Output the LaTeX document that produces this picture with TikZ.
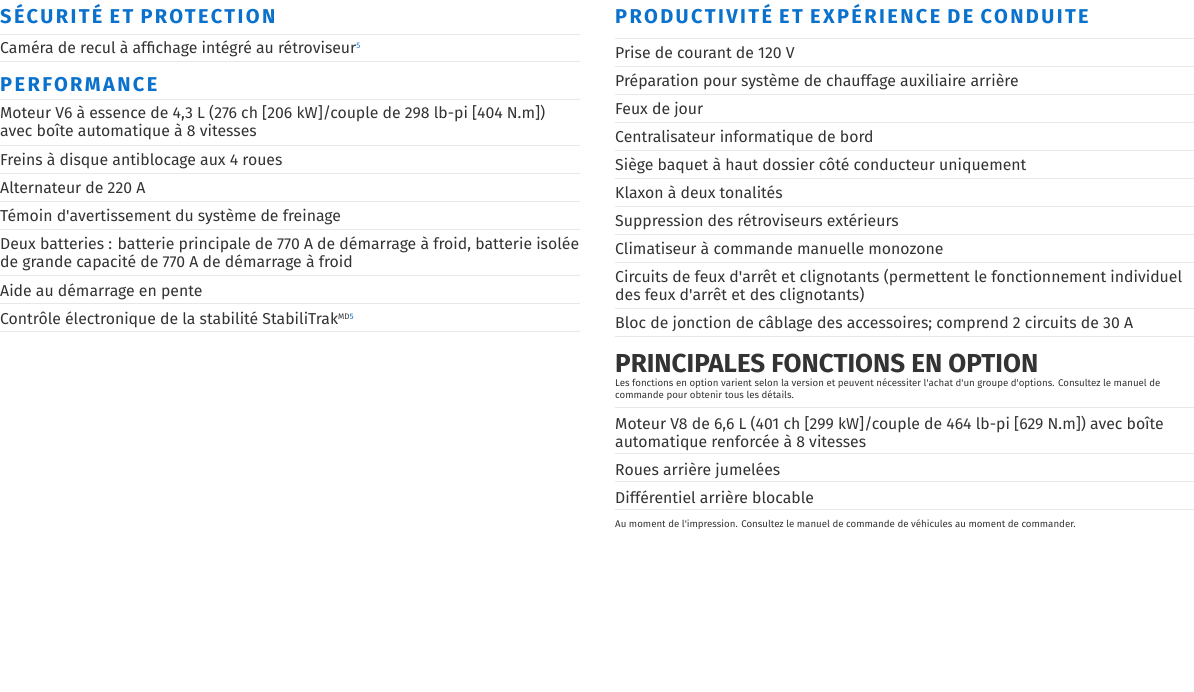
\documentclass[tikz,border=0pt]{standalone}
\usepackage{fontspec}
\setmainfont{Fira Sans}
\newfontfamily\headfont[LetterSpace=12]{Fira Sans}
\newcommand{\ap}{\textquotesingle}
\definecolor{txt}{HTML}{333333}
\definecolor{hb}{HTML}{0A72CC}
\definecolor{sep}{HTML}{E8E8E8}
\tikzset{
 body/.style={anchor=base west,inner sep=0pt,text=txt,font=\fontsize{15.8}{18}\selectfont},
 head/.style={anchor=base west,inner sep=0pt,text=hb,font=\headfont\fontsize{20}{22}\selectfont\bfseries},
 small/.style={anchor=base west,inner sep=0pt,text=txt,font=\fontsize{9.7}{10}\selectfont},
 sepl/.style={draw=sep,line width=0.8pt}
}
\newcommand{\sups}[1]{\raisebox{5pt}{\fontsize{8}{8}\selectfont #1}}
\begin{document}
\begin{tikzpicture}[x=1pt,y=-1pt]
\useasboundingbox[fill=white] (0,0) rectangle (1194,692);
\foreach \y in {34,61,99,145,173,201,229,275,303,331} \draw[sepl] (0,\y) -- (580,\y);
\foreach \y in {38,66,94,122,150,178,206,234,262,308,336,407,453,481,509} \draw[sepl] (615,\y) -- (1194,\y);
\node[head] (h1) at (0,24) {SÉCURITÉ ET PROTECTION};
\node[body] (l1) at (0,54) {Caméra de recul à affichage intégré au rétroviseur\sups{\color{hb}5}};
\node[head] (h2) at (0,92) {PERFORMANCE};
\node[body] (l2) at (0,119) {Moteur V6 à essence de 4,3 L (276 ch [206 kW]/couple de 298 lb-pi [404 N.m])};
\node[body] (l2b) at (0,137) {avec boîte automatique à 8 vitesses};
\node[body] (l3) at (0,166) {Freins à disque antiblocage aux 4 roues};
\node[body] (l4) at (0,194) {Alternateur de 220 A};
\node[body] (l5) at (0,222) {Témoin d\ap avertissement du système de freinage};
\node[body] (l6) at (0,250) {Deux batteries : batterie principale de 770 A de démarrage à froid, batterie isolée};
\node[body] (l6b) at (0,268) {de grande capacité de 770 A de démarrage à froid};
\node[body] (l7) at (0,297) {Aide au démarrage en pente};
\node[body] (l8) at (0,325) {Contrôle électronique de la stabilité StabiliTrak\sups{MD{\color{hb}5}}};
\node[head] (h3) at (615,24) {PRODUCTIVITÉ ET EXPÉRIENCE DE CONDUITE};
\node[body] (r1) at (615,59) {Prise de courant de 120 V};
\node[body] (r2) at (615,87) {Préparation pour système de chauffage auxiliaire arrière};
\node[body] (r3) at (615,115) {Feux de jour};
\node[body] (r4) at (615,143) {Centralisateur informatique de bord};
\node[body] (r5) at (615,171) {Siège baquet à haut dossier côté conducteur uniquement};
\node[body] (r6) at (615,199) {Klaxon à deux tonalités};
\node[body] (r7) at (615,227) {Suppression des rétroviseurs extérieurs};
\node[body] (r8) at (615,255) {Climatiseur à commande manuelle monozone};
\node[body] (r9) at (615,283) {Circuits de feux d\ap arrêt et clignotants (permettent le fonctionnement individuel};
\node[body] (r9b) at (615,301) {des feux d\ap arrêt et des clignotants)};
\node[body] (r10) at (615,329) {Bloc de jonction de câblage des accessoires; comprend 2 circuits de 30 A};
\node[anchor=base west,inner sep=0pt,text=txt,font=\fontsize{26}{28}\selectfont\bfseries] (h4) at (615,373) {PRINCIPALES FONCTIONS EN OPTION};
\node[small] (s1) at (615,387) {Les fonctions en option varient selon la version et peuvent nécessiter l\ap achat d\ap un groupe d\ap options. Consultez le manuel de};
\node[small] (s2) at (615,399) {commande pour obtenir tous les détails.};
\node[body] (o1) at (615,429) {Moteur V8 de 6,6 L (401 ch [299 kW]/couple de 464 lb-pi [629 N.m]) avec boîte};
\node[body] (o1b) at (615,447) {automatique renforcée à 8 vitesses};
\node[body] (o2) at (615,475) {Roues arrière jumelées};
\node[body] (o3) at (615,503) {Différentiel arrière blocable};
\node[small] (f) at (615,527) {Au moment de l\ap impression. Consultez le manuel de commande de véhicules au moment de commander.};
\end{tikzpicture}
\end{document}
